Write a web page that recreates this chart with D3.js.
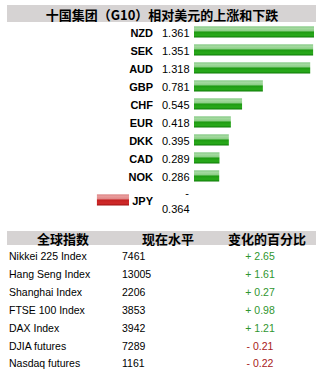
<!DOCTYPE html>
<html>
<head>
<meta charset="utf-8">
<script src="https://cdn.jsdelivr.net/npm/d3@7"></script>
<style>
  body { margin: 0; background: #fff; }
  text { font-family: "Liberation Sans", Arial, sans-serif; }
  .cjk { font-family: "Noto Sans CJK SC", sans-serif; font-weight: bold; }
</style>
</head>
<body>
<svg id="chart" width="323" height="376"></svg>
<script>
const title = '十国集团（G10）相对美元的上涨和下跌'
const currencies = ['NZD', 'SEK', 'AUD', 'GBP', 'CHF', 'EUR', 'DKK', 'CAD', 'NOK', 'JPY']
const moves = [1.361, 1.351, 1.318, 0.781, 0.545, 0.418, 0.395, 0.289, 0.286, -0.364]

const tableHeaders = ['全球指数', '现在水平', '变化的百分比']
const indices = ['Nikkei 225 Index', 'Hang Seng Index', 'Shanghai Index', 'FTSE 100 Index', 'DAX Index', 'DJIA futures', 'Nasdaq futures']
const levels = [7461, 13005, 2206, 3853, 3942, 7289, 1161]
const changes = [2.65, 1.61, 0.27, 0.98, 1.21, -0.21, -0.22]

const svg = d3.select('#chart')
const defs = svg.append('defs')

const gradient = (id, stops) => {
  const g = defs.append('linearGradient').attr('id', id)
    .attr('x1', 0).attr('y1', 0).attr('x2', 0).attr('y2', 1)
  stops.forEach(([o, c]) => g.append('stop').attr('offset', o).attr('stop-color', c))
}
gradient('green', [[0, '#5cb85c'], [0.12, '#a9dba5'], [0.4, '#8ccf86'], [0.5, '#1e9a12'], [0.8, '#2aab1c'], [1, '#0b7a05']])
gradient('red', [[0, '#d06060'], [0.12, '#eaa0a0'], [0.4, '#e08888'], [0.5, '#c42020'], [0.8, '#d02a2a'], [1, '#a01010']])

// title band
svg.append('rect').attr('x', 7).attr('y', 5).attr('width', 309).attr('height', 17).attr('fill', '#d6d3d3')
svg.append('text').attr('class', 'cjk').attr('x', 162).attr('y', 14)
  .attr('text-anchor', 'middle').attr('dominant-baseline', 'central')
  .attr('font-size', 13).attr('fill', '#000').text(title)

// bars
const x = d3.scaleLinear().domain([0, 1.361]).range([0, 120])
const y = d3.scaleLinear().domain([0, 1]).range([32, 50])
const barStart = 194
const negEnd = 129
const rowY = (d, i) => i < 9 ? y(i) : 200

const rows = svg.append('g').selectAll('g')
  .data(currencies.map((c, i) => ({ c, v: moves[i], i })))
  .join('g')

rows.append('rect')
  .attr('x', d => d.v >= 0 ? barStart : negEnd - x(-d.v))
  .attr('y', d => rowY(d, d.i) - 5.5)
  .attr('width', d => x(Math.abs(d.v)))
  .attr('height', 11)
  .attr('fill', d => d.v >= 0 ? 'url(#green)' : 'url(#red)')

rows.append('text')
  .attr('x', 153).attr('y', d => rowY(d, d.i) + 0.5)
  .attr('text-anchor', 'end').attr('dominant-baseline', 'central')
  .attr('font-size', 11).attr('font-weight', 'bold').attr('fill', '#000')
  .text(d => d.c)

rows.filter(d => d.v >= 0).append('text')
  .attr('x', 162).attr('y', d => rowY(d, d.i) + 0.5)
  .attr('dominant-baseline', 'central')
  .attr('font-size', 11).attr('fill', '#000')
  .text(d => d3.format('.3f')(d.v))

const neg = rows.filter(d => d.v < 0)
neg.append('text')
  .attr('x', 189).attr('y', 193)
  .attr('text-anchor', 'end').attr('dominant-baseline', 'central')
  .attr('font-size', 11).attr('fill', '#000').text('-')
neg.append('text')
  .attr('x', 162).attr('y', 208.5)
  .attr('dominant-baseline', 'central')
  .attr('font-size', 11).attr('fill', '#000')
  .text(d => d3.format('.3f')(-d.v))

// table
svg.append('rect').attr('x', 7).attr('y', 231).attr('width', 309).attr('height', 14).attr('fill', '#d6d3d3')
const headX = [63, 168, 267]
svg.append('g').selectAll('text').data(tableHeaders).join('text')
  .attr('class', 'cjk')
  .attr('x', (d, i) => headX[i]).attr('y', 238)
  .attr('text-anchor', 'middle').attr('dominant-baseline', 'central')
  .attr('font-size', 13).attr('fill', '#000').text(d => d)

const ty = d3.scaleLinear().domain([0, 1]).range([256, 273.9])
const trows = svg.append('g').selectAll('g')
  .data(indices.map((name, i) => ({ name, level: levels[i], change: changes[i], i })))
  .join('g')
  .attr('transform', d => `translate(0,${ty(d.i)})`)

trows.append('text').attr('x', 9).attr('dominant-baseline', 'central')
  .attr('font-size', 10.5).attr('fill', '#000').text(d => d.name)
trows.append('text').attr('x', 122).attr('dominant-baseline', 'central')
  .attr('font-size', 10.5).attr('fill', '#000').text(d => d.level)
trows.append('text').attr('x', 260).attr('text-anchor', 'middle').attr('dominant-baseline', 'central')
  .attr('font-size', 10.5)
  .attr('fill', d => d.change >= 0 ? '#2f962f' : '#a82020')
  .text(d => (d.change >= 0 ? '+ ' : '- ') + d3.format('.2f')(Math.abs(d.change)))
</script>
</body>
</html>
